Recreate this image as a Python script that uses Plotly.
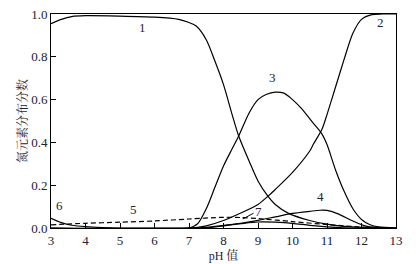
import plotly.graph_objects as go

# pH grid points and read-off distribution fractions
ph_1 = [3, 3.3, 3.6, 4, 5, 6, 6.7, 7, 7.2, 7.5, 7.75, 8, 8.25, 8.44, 8.75, 9, 9.28, 9.5, 9.9, 10.5, 11, 11.5, 12, 13]
frac_1 = [0.955, 0.975, 0.988, 0.992, 0.99, 0.985, 0.975, 0.96, 0.945, 0.88, 0.78, 0.67, 0.53, 0.43, 0.31, 0.22, 0.15, 0.11, 0.067, 0.035, 0.018, 0.008, 0.003, 0.0]

ph_2 = [3, 7, 7.25, 7.5, 8, 8.5, 9, 9.3, 9.5, 10, 10.5, 10.6, 10.85, 11, 11.25, 11.5, 11.75, 12, 12.3, 12.6, 13]
frac_2 = [0, 0, 0.003, 0.01, 0.035, 0.07, 0.11, 0.15, 0.18, 0.26, 0.36, 0.39, 0.46, 0.53, 0.66, 0.79, 0.91, 0.975, 0.997, 1.0, 1.0]

ph_3 = [3, 7, 7.25, 7.5, 7.75, 8, 8.25, 8.44, 8.75, 9, 9.25, 9.5, 9.75, 10, 10.25, 10.6, 10.85, 11, 11.25, 11.5, 11.75, 12, 12.25, 12.5, 13]
frac_3 = [0, 0, 0.02, 0.09, 0.19, 0.29, 0.37, 0.43, 0.54, 0.6, 0.625, 0.635, 0.63, 0.6, 0.56, 0.49, 0.44, 0.39, 0.27, 0.17, 0.09, 0.04, 0.015, 0.005, 0]

ph_4 = [7, 7.5, 8, 8.5, 9, 9.5, 10, 10.5, 10.8, 11, 11.3, 11.75, 12.1, 12.5, 13]
frac_4 = [0, 0.003, 0.012, 0.022, 0.036, 0.052, 0.068, 0.078, 0.083, 0.082, 0.067, 0.033, 0.01, 0.002, 0]

ph_5 = [3, 4, 5, 6, 7, 8, 8.5, 9, 10, 11, 11.5, 12, 12.5, 13]
frac_5 = [0.015, 0.022, 0.027, 0.033, 0.042, 0.05, 0.049, 0.044, 0.03, 0.016, 0.01, 0.004, 0.0, 0.0]

ph_6 = [3, 3.3, 3.6, 4, 4.5, 5, 7]
frac_6 = [0.045, 0.025, 0.013, 0.006, 0.002, 0, 0]

ph_7 = [7.5, 8, 8.5, 9, 9.5, 10, 10.5, 11, 11.5, 12, 13]
frac_7 = [0, 0.01, 0.02, 0.028, 0.027, 0.022, 0.012, 0.005, 0.001, 0, 0]

curve_labels = ["1", "2", "3", "4", "5", "6", "7"]
label_ph = [5.64, 12.55, 9.42, 10.81, 5.39, 3.25, 9.0]
label_frac = [0.937, 0.96, 0.704, 0.149, 0.088, 0.107, 0.075]

x_ticks = [3, 4, 5, 6, 7, 8, 9, 10, 11, 12, 13]
y_ticks = [0.0, 0.2, 0.4, 0.6, 0.8, 1.0]

serif = "Liberation Serif, Times New Roman, serif"
cjk = "Liberation Serif, Noto Serif CJK SC, Noto Sans CJK SC, serif"
txt_color = "#222233"

fig = go.Figure()
series = [(ph_1, frac_1, "solid"), (ph_2, frac_2, "solid"), (ph_3, frac_3, "solid"),
          (ph_4, frac_4, "solid"), (ph_5, frac_5, "5px,3px"), (ph_6, frac_6, "solid"),
          (ph_7, frac_7, "solid")]
for xs, ys, dash in series:
    fig.add_trace(go.Scatter(x=xs, y=ys, mode="lines",
                             line=dict(color="black", width=1.2, dash=dash,
                                       shape="spline", smoothing=0.8),
                             showlegend=False, hoverinfo="skip"))

for t, xv, yv in zip(curve_labels, label_ph, label_frac):
    fig.add_annotation(x=xv, y=yv, text=t, showarrow=False,
                       font=dict(family=serif, size=13, color=txt_color))

# leader line for label 7
fig.add_shape(type="line", x0=8.56, y0=0.042, x1=8.87, y1=0.069,
              line=dict(color="black", width=1))

fig.update_layout(
    width=419, height=264,
    margin=dict(l=43, r=31, t=6, b=44),
    plot_bgcolor="white", paper_bgcolor="white",
    font=dict(family=serif, size=13, color=txt_color),
)
fig.update_xaxes(range=[3, 13], tickvals=x_ticks, ticktext=[str(v) for v in x_ticks],
                 ticks="inside", ticklen=5, tickcolor="black", automargin="bottom",
                 showline=True, linecolor="black", linewidth=1, mirror=True,
                 showgrid=False, zeroline=False, ticklabeloverflow="allow",
                 title=dict(text="pH 值", font=dict(family=cjk, size=12, color=txt_color), standoff=0),
                 tickfont=dict(family=serif, size=13, color=txt_color))
fig.update_yaxes(range=[0, 1.0], tickvals=y_ticks, ticktext=["%.1f" % v for v in y_ticks],
                 ticks="inside", ticklen=5, tickcolor="black", automargin="left",
                 showline=True, linecolor="black", linewidth=1, mirror=True,
                 showgrid=False, zeroline=False, ticklabeloverflow="allow",
                 title=dict(text="氮元素分布分数", font=dict(family=cjk, size=12, color=txt_color), standoff=0),
                 tickfont=dict(family=serif, size=13, color=txt_color))

fig.write_html("out.html")
